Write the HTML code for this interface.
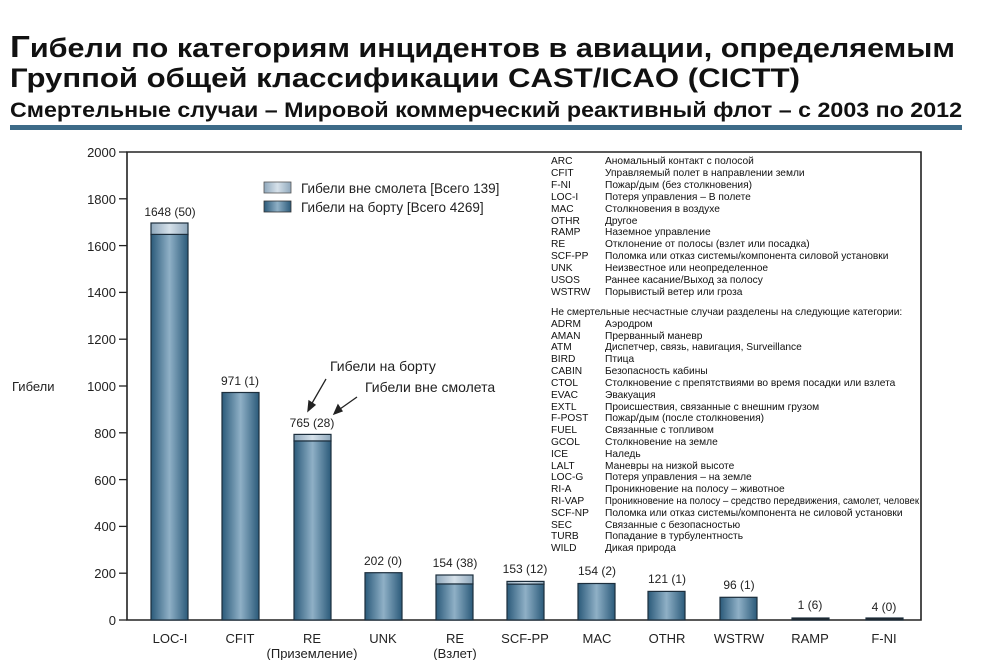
<!DOCTYPE html>
<html><head><meta charset="utf-8"><style>
body{margin:0;background:#fff}
svg{display:block;font-family:"Liberation Sans",Arial,sans-serif}
</style></head><body>
<svg width="995" height="660" viewBox="0 0 995 660" xmlns="http://www.w3.org/2000/svg">
<defs>
<linearGradient id="d" x1="0" x2="1" y1="0" y2="0">
<stop offset="0" stop-color="#2b5a7a"/><stop offset="0.5" stop-color="#8fb0c6"/><stop offset="1" stop-color="#2b5a7a"/>
</linearGradient>
<linearGradient id="l" x1="0" x2="1" y1="0" y2="0">
<stop offset="0" stop-color="#8fa8bc"/><stop offset="0.5" stop-color="#d6e1ea"/><stop offset="1" stop-color="#8fa8bc"/>
</linearGradient>
</defs>
<g font-weight="bold" fill="#111">
<text x="10" y="57" font-size="27" textLength="945" lengthAdjust="spacingAndGlyphs"><tspan font-size="31">Г</tspan>ибели по категориям инцидентов в авиации, определяемым</text>
<text x="10" y="87" font-size="27" textLength="790" lengthAdjust="spacingAndGlyphs">Группой общей классификации CAST/ICAO (CICTT)</text>
<text x="10" y="117" font-size="21" textLength="952" lengthAdjust="spacingAndGlyphs">Смертельные случаи – Мировой коммерческий реактивный флот – с 2003 по 2012</text>
</g>
<rect x="10" y="125" width="952" height="5" fill="#3d6b88"/>
<path d="M127 152 H921 V620 H127 Z" fill="none" stroke="#222" stroke-width="1.6"/>
<g stroke="#222" stroke-width="1.3">
<line x1="119" y1="152" x2="127" y2="152"/><line x1="119" y1="198.8" x2="127" y2="198.8"/><line x1="119" y1="245.6" x2="127" y2="245.6"/><line x1="119" y1="292.4" x2="127" y2="292.4"/><line x1="119" y1="339.2" x2="127" y2="339.2"/><line x1="119" y1="386" x2="127" y2="386"/><line x1="119" y1="432.8" x2="127" y2="432.8"/><line x1="119" y1="479.6" x2="127" y2="479.6"/><line x1="119" y1="526.4" x2="127" y2="526.4"/><line x1="119" y1="573.2" x2="127" y2="573.2"/><line x1="119" y1="620" x2="127" y2="620"/>
</g>
<g font-size="13" fill="#222" text-anchor="end">
<text x="116" y="157">2000</text><text x="116" y="204">1800</text><text x="116" y="251">1600</text><text x="116" y="297">1400</text><text x="116" y="344">1200</text><text x="116" y="391">1000</text><text x="116" y="438">800</text><text x="116" y="485">600</text><text x="116" y="531">400</text><text x="116" y="578">200</text><text x="116" y="625">0</text>
</g>
<text x="12" y="391" font-size="13" fill="#222">Гибели</text>
<g stroke="#1c2e3c" stroke-width="1.2">
<rect x="151" y="223" width="37" height="11.7" fill="url(#l)"/><rect x="151" y="234.4" width="37" height="385.6" fill="url(#d)"/>
<rect x="222" y="392.5" width="37" height="227.5" fill="url(#d)"/>
<rect x="294" y="434.4" width="37" height="6.6" fill="url(#l)"/><rect x="294" y="441" width="37" height="179" fill="url(#d)"/>
<rect x="365" y="572.7" width="37" height="47.3" fill="url(#d)"/>
<rect x="436" y="575" width="37" height="9" fill="url(#l)"/><rect x="436" y="584" width="37" height="36" fill="url(#d)"/>
<rect x="507" y="581.4" width="37" height="2.8" fill="url(#l)"/><rect x="507" y="584.2" width="37" height="35.8" fill="url(#d)"/>
<rect x="578" y="583.5" width="37" height="36.5" fill="url(#d)"/>
<rect x="648" y="591.4" width="37" height="28.6" fill="url(#d)"/>
<rect x="720" y="597.3" width="37" height="22.7" fill="url(#d)"/>
<rect x="792" y="618" width="37" height="2" fill="#222"/>
<rect x="866" y="618" width="37" height="2" fill="#222"/>
</g>
<g font-size="12" fill="#222" text-anchor="middle">
<text x="170" y="216">1648 (50)</text>
<text x="240" y="385">971 (1)</text>
<text x="312" y="427">765 (28)</text>
<text x="383" y="565">202 (0)</text>
<text x="455" y="567">154 (38)</text>
<text x="525" y="573">153 (12)</text>
<text x="597" y="575">154 (2)</text>
<text x="667" y="583">121 (1)</text>
<text x="739" y="589">96 (1)</text>
<text x="810" y="609">1 (6)</text>
<text x="884" y="611">4 (0)</text>
</g>
<g font-size="13" fill="#222" text-anchor="middle">
<text x="170" y="643">LOC-I</text><text x="240" y="643">CFIT</text><text x="312" y="643">RE</text><text x="312" y="658">(Приземление)</text><text x="383" y="643">UNK</text><text x="455" y="643">RE</text><text x="455" y="658">(Взлет)</text><text x="525" y="643">SCF-PP</text><text x="597" y="643">MAC</text><text x="667" y="643">OTHR</text><text x="739" y="643">WSTRW</text><text x="810" y="643">RAMP</text><text x="884" y="643">F-NI</text>
</g>
<rect x="264" y="182" width="27" height="11" fill="url(#l)" stroke="#555" stroke-width="0.8"/>
<rect x="264" y="201" width="27" height="11" fill="url(#d)" stroke="#333" stroke-width="0.8"/>
<g font-size="13.5" fill="#222"><text x="301" y="193">Гибели вне смолета  [Всего 139]</text><text x="301" y="212">Гибели на борту  [Всего 4269]</text></g>
<g font-size="14" fill="#222"><text x="330" y="371">Гибели на борту</text><text x="365" y="392">Гибели вне смолета</text></g>
<g stroke="#222" stroke-width="1.3" fill="#222">
<line x1="326" y1="379" x2="311" y2="405"/><path d="M308 411 L309 401 L315 405 Z"/>
<line x1="357" y1="397" x2="340" y2="409"/><path d="M334 414 L338 405 L342 411 Z"/>
</g>
<g font-size="10.2" fill="#111">
<text x="551" y="164">ARC</text><text x="605" y="164">Аномальный контакт с полосой</text>
<text x="551" y="176">CFIT</text><text x="605" y="176">Управляемый полет в направлении земли</text>
<text x="551" y="188">F-NI</text><text x="605" y="188">Пожар/дым (без столкновения)</text>
<text x="551" y="200">LOC-I</text><text x="605" y="200">Потеря управления – В полете</text>
<text x="551" y="212">MAC</text><text x="605" y="212">Столкновения в воздухе</text>
<text x="551" y="224">OTHR</text><text x="605" y="224">Другое</text>
<text x="551" y="235">RAMP</text><text x="605" y="235">Наземное управление</text>
<text x="551" y="247">RE</text><text x="605" y="247">Отклонение от полосы (взлет или посадка)</text>
<text x="551" y="259">SCF-PP</text><text x="605" y="259">Поломка или отказ системы/компонента силовой установки</text>
<text x="551" y="271">UNK</text><text x="605" y="271">Неизвестное или неопределенное</text>
<text x="551" y="283">USOS</text><text x="605" y="283">Раннее касание/Выход за полосу</text>
<text x="551" y="295">WSTRW</text><text x="605" y="295">Порывистый ветер или гроза</text>
<text x="551" y="315">Не смертельные несчастные случаи разделены на следующие категории:</text>
<text x="551" y="327">ADRM</text><text x="605" y="327">Аэродром</text>
<text x="551" y="339">AMAN</text><text x="605" y="339">Прерванный маневр</text>
<text x="551" y="350">ATM</text><text x="605" y="350">Диспетчер, связь, навигация, Surveillance</text>
<text x="551" y="362">BIRD</text><text x="605" y="362">Птица</text>
<text x="551" y="374">CABIN</text><text x="605" y="374">Безопасность кабины</text>
<text x="551" y="386">CTOL</text><text x="605" y="386">Столкновение с препятствиями во время посадки или взлета</text>
<text x="551" y="398">EVAC</text><text x="605" y="398">Эвакуация</text>
<text x="551" y="410">EXTL</text><text x="605" y="410">Происшествия, связанные с внешним грузом</text>
<text x="551" y="421">F-POST</text><text x="605" y="421">Пожар/дым (после столкновения)</text>
<text x="551" y="433">FUEL</text><text x="605" y="433">Связанные с топливом</text>
<text x="551" y="445">GCOL</text><text x="605" y="445">Столкновение на земле</text>
<text x="551" y="457">ICE</text><text x="605" y="457">Наледь</text>
<text x="551" y="469">LALT</text><text x="605" y="469">Маневры на низкой высоте</text>
<text x="551" y="480">LOC-G</text><text x="605" y="480">Потеря управления – на земле</text>
<text x="551" y="492">RI-A</text><text x="605" y="492">Проникновение на полосу – животное</text>
<text x="551" y="504">RI-VAP</text><text x="605" y="504" textLength="314" lengthAdjust="spacingAndGlyphs">Проникновение на полосу – средство передвижения, самолет, человек</text>
<text x="551" y="516">SCF-NP</text><text x="605" y="516">Поломка или отказ системы/компонента не силовой установки</text>
<text x="551" y="528">SEC</text><text x="605" y="528">Связанные с безопасностью</text>
<text x="551" y="539">TURB</text><text x="605" y="539">Попадание в турбулентность</text>
<text x="551" y="551">WILD</text><text x="605" y="551">Дикая природа</text>
</g>
</svg>
</body></html>
